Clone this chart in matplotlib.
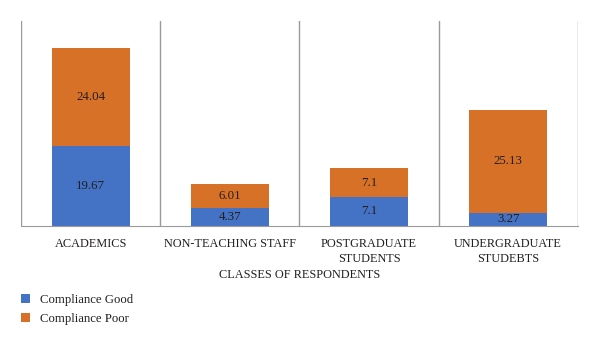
import matplotlib
matplotlib.use("Agg")
import matplotlib.pyplot as plt

categories = ["ACADEMICS", "NON-TEACHING STAFF", "POSTGRADUATE\nSTUDENTS", "UNDERGRADUATE\nSTUDEBTS"]
good = [19.67, 4.37, 7.1, 3.27]
poor = [24.04, 6.01, 7.1, 25.13]

blue = "#4472C4"
orange = "#D87128"
txt = "#231F20"

plt.rcParams['font.family'] = ['Liberation Serif', 'DejaVu Serif']

fig = plt.figure(figsize=(6, 3.46), dpi=100)
ax = fig.add_axes([0.035, 0.347, 0.928, 0.592])

x = range(len(categories))
b1 = ax.bar(x, good, width=0.56, color=blue, label="Compliance Good")
b2 = ax.bar(x, poor, width=0.56, bottom=good, color=orange, label="Compliance Poor")

for i in x:
    ax.text(i, good[i] / 2, f"{good[i]:g}", ha='center', va='center', fontsize=9.3, color=txt)
    ax.text(i, good[i] + poor[i] / 2, f"{poor[i]:g}", ha='center', va='center', fontsize=9.3, color=txt)

# category separators
for s in [-0.5, 0.5, 1.5, 2.5, 3.5]:
    ax.axvline(s, color="#9A9A9A", linewidth=1.0, zorder=0)

ax.set_xlim(-0.5, 3.5)
ax.set_ylim(0, 50.3)
for sp in ['top', 'left', 'right']:
    ax.spines[sp].set_visible(False)
ax.spines['bottom'].set_color("#9A9A9A")
ax.set_yticks([])
ax.set_xticks(list(x))
ax.set_xticklabels(categories, fontsize=8.8, color=txt, linespacing=1.25)
ax.tick_params(axis='x', length=0, pad=9)
ax.set_xlabel("CLASSES OF RESPONDENTS", fontsize=8.8, color=txt, labelpad=3)

fig.legend(handles=[b1, b2], loc='upper left', bbox_to_anchor=(0.035, 0.15),
           frameon=False, fontsize=9.2, handlelength=0.7, handleheight=0.7,
           handletextpad=0.75, labelspacing=0.55, labelcolor=txt,
           borderpad=0, borderaxespad=0)

fig.savefig("out.png", dpi=100)
